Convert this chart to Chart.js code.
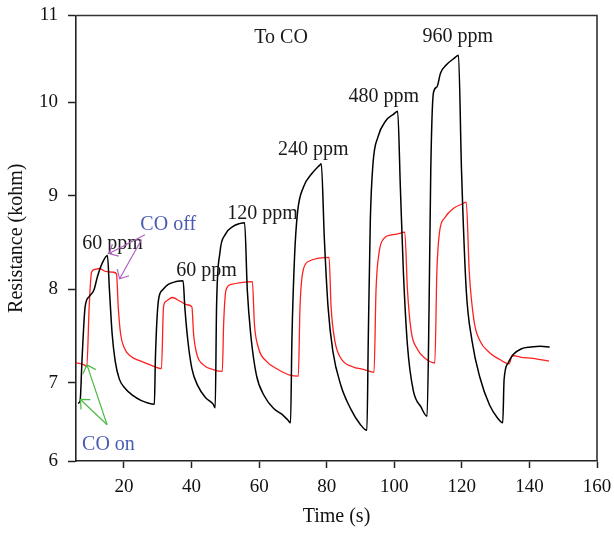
<!DOCTYPE html>
<html>
<head>
<meta charset="utf-8">
<script src="https://cdn.jsdelivr.net/npm/chart.js@4.4.1/dist/chart.umd.min.js"></script>
<style>
  html, body { margin: 0; padding: 0; background: #fff; }
  #wrap { width: 614px; height: 535px; }
</style>
</head>
<body>
<div id="wrap"><canvas id="resistance"></canvas></div>
<script>
// black trace (time in s, resistance in kohm)
const blackTime = [6.4, 7.0, 7.6, 8.5, 9.7, 11.1, 12.2, 13.6, 15.1, 15.7, 16.5, 17.4, 18.6, 20.3, 22.7, 25.0, 27.3, 29.0,
  29.3, 30.2, 31.4, 33.1, 35.4, 37.5, 38.0, 38.9, 40.1, 41.8, 44.1, 46.4, 47.0,
  47.4, 48.4, 49.9, 52.3, 54.2, 55.7, 56.5, 57.5, 59.2, 61.5, 64.4, 66.8, 68.5, 69.3,
  69.7, 70.5, 71.4, 73.1, 75.5, 77.8, 78.4, 79.3, 80.4, 81.8, 84.2, 87.1, 90.0, 91.9,
  92.3, 92.9, 93.7, 95.2, 97.5, 99.8, 101.0, 101.8, 102.7, 103.9, 105.6, 107.9, 109.7,
  110.3, 110.8, 111.6, 112.6, 113.7, 115.5, 117.8, 119.0, 119.9, 121.3, 123.0, 125.3, 128.2, 130.6, 132.1,
  132.5, 133.7, 135.2, 137.5, 140.4, 143.3, 146.0];
const blackOhm = [6.78, 6.80, 7.26, 7.81, 7.92, 7.99, 8.14, 8.28, 8.36, 7.99, 7.52, 7.23, 7.04, 6.94, 6.86, 6.81, 6.78, 6.77,
  7.26, 7.88, 7.99, 8.05, 8.08, 8.09, 7.81, 7.45, 7.15, 6.97, 6.84, 6.77, 6.73,
  7.81, 8.39, 8.58, 8.67, 8.70, 8.71, 7.99, 7.52, 7.08, 6.86, 6.72, 6.66, 6.60, 6.57,
  7.45, 8.36, 8.83, 9.09, 9.23, 9.32, 9.34, 8.54, 7.81, 7.34, 6.97, 6.72, 6.55, 6.49,
  7.45, 8.72, 9.34, 9.63, 9.80, 9.87, 9.90, 9.09, 8.18, 7.40, 6.92, 6.74, 6.64,
  7.81, 9.27, 10.10, 10.16, 10.31, 10.40, 10.47, 10.50, 9.27, 7.99, 7.45, 7.06, 6.76, 6.62, 6.57,
  7.03, 7.21, 7.30, 7.36, 7.38, 7.39, 7.38];

// red trace
const redTime = [5.85, 8.2, 9.0, 9.7, 10.4, 11.3, 12.8, 14.5, 16.9, 17.8, 18.3, 19.0, 20.1, 22.1, 25.0, 28.5, 31.1,
  31.7, 32.5, 34.3, 36.6, 38.9, 40.1, 40.6, 41.6, 43.5, 46.4, 49.1,
  49.5, 50.2, 51.7, 54.6, 58.0, 58.6, 59.8, 62.1, 65.6, 69.1, 71.6,
  72.1, 73.1, 74.9, 77.8, 80.7, 81.3, 82.4, 84.2, 87.6, 91.1, 94.0,
  94.6, 95.5, 96.9, 99.2, 101.0, 103.1, 103.9, 105.0, 106.8, 109.1, 112.0,
  112.6, 113.4, 114.9, 117.8, 120.1, 121.3, 122.2, 123.6, 125.3, 128.2, 131.1, 134.0,
  134.9, 137.5, 141.0, 145.8];
const redOhm = [7.21, 7.19, 7.17, 7.81, 8.18, 8.21, 8.22, 8.19, 8.18, 8.16, 7.81, 7.52, 7.37, 7.28, 7.23, 7.18, 7.15,
  7.81, 7.87, 7.91, 7.87, 7.83, 7.81, 7.52, 7.30, 7.19, 7.14, 7.12,
  7.63, 7.99, 8.05, 8.07, 8.08, 7.63, 7.37, 7.23, 7.14, 7.08, 7.07,
  7.81, 8.21, 8.30, 8.33, 8.34, 7.81, 7.45, 7.26, 7.17, 7.14, 7.11,
  7.99, 8.39, 8.54, 8.58, 8.59, 8.61, 7.99, 7.55, 7.36, 7.26, 7.21,
  8.18, 8.61, 8.76, 8.87, 8.91, 8.93, 8.18, 7.66, 7.45, 7.32, 7.25, 7.20,
  7.29, 7.27, 7.26, 7.23];

// axes
const xTicks = [20, 40, 60, 80, 100, 120, 140, 160];
const xMinorTicks = [10, 30, 50, 70, 90, 110, 130, 150];
const yMin = 6.162, yMax = 10.925;
const yTicks = [yMin, 7, 8, 9, 10, yMax];
const yTickLabels = ['6', '7', '8', '9', '10', '11'];
const yMinorTicks = [6.5, 7.5, 8.5, 9.5, 10.5];

// text notes [text, time, kohm, colour]
const notes = [
  ['To CO', 66.5, 10.69, '#1a1a1a'],
  ['960 ppm', 118.8, 10.70, '#1a1a1a'],
  ['480 ppm', 96.9, 10.06, '#1a1a1a'],
  ['240 ppm', 76.0, 9.49, '#1a1a1a'],
  ['120 ppm', 61.0, 8.81, '#1a1a1a'],
  ['60 ppm', 16.6, 8.49, '#1a1a1a'],
  ['60 ppm', 44.4, 8.20, '#1a1a1a'],
  ['CO off', 33.1, 8.69, '#4a5bb4'],
  ['CO on', 15.4, 6.34, '#4a5bb4']
];
// arrows [fromTime, fromKohm, toTime, toKohm, colour]
const arrows = [
  [26.2, 8.58, 15.6, 8.38, '#b060c4'],
  [25.2, 8.53, 18.7, 8.11, '#b060c4'],
  [15.0, 6.55, 9.05, 7.19, '#4cbb44'],
  [15.0, 6.55, 7.1, 6.82, '#4cbb44']
];

const serif = '"Liberation Serif", "DejaVu Serif", serif';

const pairs = (xs, ys) => xs.map((x, i) => ({x: x, y: ys[i]}));

const decor = {
  id: 'decor',
  afterDatasetsDraw(chart) {
    const {ctx, chartArea: a, scales} = chart;
    const sx = scales.x, sy = scales.y;
    ctx.save();
    // frame top + right
    ctx.strokeStyle = '#333';
    ctx.lineWidth = 1.6;
    ctx.beginPath();
    ctx.moveTo(a.left, a.top);
    ctx.lineTo(a.right, a.top);
    ctx.lineTo(a.right, a.bottom);
    ctx.stroke();

    ctx.font = '20px ' + serif;
    ctx.textAlign = 'center';
    ctx.textBaseline = 'middle';
    notes.forEach(n => {
      ctx.fillStyle = n[3];
      ctx.fillText(n[0], sx.getPixelForValue(n[1]), sy.getPixelForValue(n[2]));
    });

    ctx.lineWidth = 1.2;
    arrows.forEach(r => {
      const x1 = sx.getPixelForValue(r[0]), y1 = sy.getPixelForValue(r[1]);
      const x2 = sx.getPixelForValue(r[2]), y2 = sy.getPixelForValue(r[3]);
      const ang = Math.atan2(y1 - y2, x1 - x2);
      const len = 10, spread = 0.75;
      ctx.strokeStyle = r[4];
      ctx.beginPath();
      ctx.moveTo(x1, y1);
      ctx.lineTo(x2, y2);
      ctx.moveTo(x2 + len * Math.cos(ang - spread), y2 + len * Math.sin(ang - spread));
      ctx.lineTo(x2, y2);
      ctx.lineTo(x2 + len * Math.cos(ang + spread), y2 + len * Math.sin(ang + spread));
      ctx.stroke();
    });
    ctx.restore();
  }
};

// fixed axis sizes so the plot box lands where the original's does
const fixX = h => s => { s.height = h; s.paddingLeft = 0; s.paddingRight = 0; };
const fixY = w => s => { s.width = w; s.paddingTop = 0; s.paddingBottom = 0; };

new Chart(document.getElementById('resistance'), {
  type: 'line',
  data: {
    datasets: [
      {
        label: 'black',
        data: pairs(blackTime, blackOhm),
        borderColor: '#000',
        borderWidth: 1.5,
        pointRadius: 0,
        cubicInterpolationMode: 'monotone'
      },
      {
        label: 'red',
        data: pairs(redTime, redOhm),
        borderColor: '#ff1f1f',
        borderWidth: 1.3,
        pointRadius: 0,
        cubicInterpolationMode: 'monotone'
      }
    ]
  },
  options: {
    responsive: true,
    maintainAspectRatio: false,
    animation: false,
    layout: { padding: { top: 15.5, right: 17, left: 0, bottom: 0 } },
    plugins: { legend: { display: false }, tooltip: { enabled: false } },
    scales: {
      x: {
        type: 'linear',
        min: 5.8,
        max: 160,
        afterBuildTicks: s => { s.ticks = xTicks.map(v => ({value: v})); },
        afterFit: fixX(74),
        ticks: { font: { family: serif, size: 19 }, color: '#111', padding: 8, maxRotation: 0 },
        grid: { drawOnChartArea: false, tickLength: 7, tickColor: '#222', tickWidth: 1.5 },
        border: { color: '#222', width: 1.6 },
        title: { display: true, text: 'Time (s)', font: { family: serif, size: 20 }, color: '#111', padding: { top: 2, bottom: 6 } }
      },
      xMinor: {
        type: 'linear',
        position: 'bottom',
        min: 5.8,
        max: 160,
        afterBuildTicks: s => { s.ticks = xMinorTicks.map(v => ({value: v})); },
        afterFit: fixX(0),
        ticks: { display: false },
        grid: { drawOnChartArea: false, tickLength: 4, tickColor: '#222', tickWidth: 1.5 },
        border: { display: false }
      },
      y: {
        type: 'linear',
        min: yMin,
        max: yMax,
        afterBuildTicks: s => { s.ticks = yTicks.map(v => ({value: v})); },
        afterFit: fixY(76),
        ticks: {
          font: { family: serif, size: 19 }, color: '#111', padding: 10,
          callback: (v, i) => yTickLabels[i]
        },
        grid: { drawOnChartArea: false, tickLength: 8, tickColor: '#222', tickWidth: 1.5 },
        border: { color: '#222', width: 1.6 },
        title: { display: true, text: 'Resistance (kohm)', font: { family: serif, size: 20 }, color: '#111', padding: { top: 5, bottom: 4 } }
      },
      yMinor: {
        type: 'linear',
        position: 'left',
        min: yMin,
        max: yMax,
        afterBuildTicks: s => { s.ticks = yMinorTicks.map(v => ({value: v})); },
        afterFit: fixY(0),
        ticks: { display: false },
        grid: { drawOnChartArea: false, tickLength: 4, tickColor: '#222', tickWidth: 1.5 },
        border: { display: false }
      }
    }
  },
  plugins: [decor]
});
</script>
</body>
</html>
